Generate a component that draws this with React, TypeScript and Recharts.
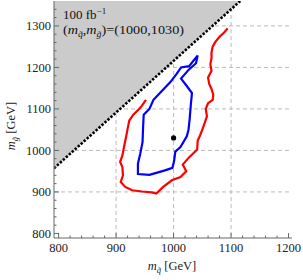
import {
  ComposedChart,
  Line,
  Area,
  Scatter,
  XAxis,
  YAxis,
  CartesianGrid,
} from "recharts";

// squark mass (x) / gluino mass (y), GeV
const redContour = [
  [1094, 1294], [1088, 1284], [1080, 1274], [1073, 1262], [1068, 1250],
  [1066, 1236], [1066, 1222], [1064, 1208], [1066, 1192], [1060, 1176],
  [1062, 1160], [1066, 1148], [1069, 1134], [1068, 1122], [1060, 1114],
  [1056, 1100], [1058, 1082], [1054, 1066], [1050, 1050], [1046, 1036],
  [1042, 1024], [1041, 1002], [1026, 982], [1016, 966], [1022, 950],
  [1012, 936], [997, 928], [982, 912], [970, 896], [962, 899],
  [945, 901], [928, 904], [916, 912], [908, 924], [912, 940],
  [911, 960], [907, 972], [911, 988], [914, 1010], [917, 1030],
  [920, 1052], [923, 1072], [930, 1086], [940, 1100], [945, 1108],
  [952, 1122],
];

const blueContour = [
  [1042, 1229], [1039, 1210], [1026, 1194], [1013, 1173], [1022, 1157],
  [1032, 1138], [1030, 1110], [1028, 1076], [1026, 1050], [1023, 1034],
  [1012, 1008], [1003, 997], [1001, 975], [998, 958], [985, 952],
  [970, 946], [958, 941], [938, 943], [938, 968], [942, 992],
  [946, 1020], [947, 1056], [948, 1086], [958, 1100], [965, 1122],
  [980, 1144], [994, 1164], [1005, 1184], [1013, 1200], [1027, 1203],
  [1042, 1229],
];

// kinematic boundary (dotted), shaded above
const boundaryQ = [792, 1116];
const boundaryG = [957, 1360];

const benchmark = [{ q: 1000, g: 1030 }];

const xTicks = [
  800, 820, 840, 860, 880, 900, 920, 940, 960, 980, 1000, 1020, 1040, 1060,
  1080, 1100, 1120, 1140, 1160, 1180, 1200,
];
const yTicks = [
  800, 820, 840, 860, 880, 900, 920, 940, 960, 980, 1000, 1020, 1040, 1060,
  1080, 1100, 1120, 1140, 1160, 1180, 1200, 1220, 1240, 1260, 1280, 1300,
  1320, 1340,
];
const xGrid = [900, 1000, 1100];
const yGrid = [900, 1000, 1100, 1200, 1300];

const X_DOMAIN = [792, 1206];
const Y_DOMAIN = [789, 1360];

const FONT = "'Liberation Serif', 'DejaVu Serif', serif";
const FRAME = "#666";

const red = redContour.map(([q, g]) => ({ q, g }));
const blue = blueContour.map(([q, g]) => ({ q, g }));
const boundary = boundaryQ.map((q, i) => ({ q, g: boundaryG[i] }));
const shade = boundaryQ.map((q, i) => ({ q, band: [boundaryG[i], Y_DOMAIN[1]] }));

const tickLen = (v: number) => (v % 100 === 0 ? 5 : 2.5);

// grid positions: same linear mapping the axes use
const gridX = ({ offset }: any) =>
  xGrid.map((v) => offset.left + ((v - X_DOMAIN[0]) / (X_DOMAIN[1] - X_DOMAIN[0])) * offset.width);
const gridY = ({ offset }: any) =>
  yGrid.map((v) => offset.top + ((Y_DOMAIN[1] - v) / (Y_DOMAIN[1] - Y_DOMAIN[0])) * offset.height);

const BottomTick = ({ x, y, payload }: any) => (
  <g>
    <line x1={x} x2={x} y1={y} y2={y - tickLen(payload.value)} stroke={FRAME} />
    {payload.value % 100 === 0 && (
      <text x={x} y={y + 14} textAnchor="middle" fontFamily={FONT} fontSize={12.5} fill="#222">
        {payload.value}
      </text>
    )}
  </g>
);

const TopTick = ({ x, y, payload }: any) => (
  <line x1={x} x2={x} y1={y} y2={y + tickLen(payload.value)} stroke={FRAME} />
);

const LeftTick = ({ x, y, payload }: any) => (
  <g>
    <line x1={x} x2={x + tickLen(payload.value)} y1={y} y2={y} stroke={FRAME} />
    {payload.value % 100 === 0 && (
      <text x={x - 3} y={y} dy="0.35em" textAnchor="end" fontFamily={FONT} fontSize={12.5} fill="#222">
        {payload.value}
      </text>
    )}
  </g>
);

const RightTick = ({ x, y, payload }: any) => (
  <line x1={x} x2={x - tickLen(payload.value)} y1={y} y2={y} stroke={FRAME} />
);

const Dot = ({ cx, cy }: any) => <circle cx={cx} cy={cy} r={2.6} fill="#000" />;

export default function App() {
  return (
    <div style={{ position: "absolute", left: 0, top: 0, width: 303, height: 280, background: "#fff" }}>
      <ComposedChart width={303} height={280} margin={{ top: 1, right: 11, bottom: 0, left: 0 }}>
        <CartesianGrid
          stroke="#bbb"
          strokeDasharray="4 3"
          verticalCoordinatesGenerator={gridX}
          horizontalCoordinatesGenerator={gridY}
        />
        <XAxis
          xAxisId={0}
          dataKey="q"
          type="number"
          domain={X_DOMAIN}
          allowDataOverflow
          ticks={xTicks}
          interval={0}
          height={42}
          tickSize={0}
          tickMargin={0}
          tickLine={false}
          axisLine={{ stroke: FRAME }}
          tick={BottomTick}
        />
        <XAxis
          xAxisId="top"
          orientation="top"
          dataKey="q"
          type="number"
          domain={X_DOMAIN}
          allowDataOverflow
          ticks={xTicks}
          interval={0}
          height={0}
          tickSize={0}
          tickMargin={0}
          tickLine={false}
          axisLine={{ stroke: FRAME }}
          tick={TopTick}
        />
        <YAxis
          yAxisId={0}
          dataKey="g"
          type="number"
          domain={Y_DOMAIN}
          allowDataOverflow
          ticks={yTicks}
          interval={0}
          width={54}
          tickSize={0}
          tickMargin={0}
          tickLine={false}
          axisLine={{ stroke: FRAME }}
          tick={LeftTick}
        />
        <YAxis
          yAxisId="right"
          orientation="right"
          dataKey="g"
          type="number"
          domain={Y_DOMAIN}
          allowDataOverflow
          ticks={yTicks}
          interval={0}
          width={0}
          tickSize={0}
          tickMargin={0}
          tickLine={false}
          axisLine={{ stroke: FRAME }}
          tick={RightTick}
        />

        <Area
          data={shade}
          dataKey="band"
          type="linear"
          fill="#cbcbcb"
          fillOpacity={1}
          stroke="none"
          isAnimationActive={false}
        />
        <Line
          data={boundary}
          dataKey="g"
          type="linear"
          stroke="#000"
          strokeWidth={2.6}
          strokeDasharray="2.4 1.6"
          dot={false}
          isAnimationActive={false}
        />
        <Line
          data={red}
          dataKey="g"
          type="linear"
          stroke="#ff0000"
          strokeWidth={2.2}
          dot={false}
          isAnimationActive={false}
        />
        <Line
          data={blue}
          dataKey="g"
          type="linear"
          stroke="#0000ff"
          strokeWidth={2.2}
          dot={false}
          isAnimationActive={false}
        />
        <Scatter data={benchmark} dataKey="g" shape={Dot} isAnimationActive={false} />

        <text x={172} y={270} textAnchor="middle" fontFamily={FONT} fontSize={12.5} fill="#222">
          <tspan fontStyle="italic">m</tspan>
          <tspan dy={3} fontSize={8.5} fontStyle="italic">q̃</tspan>
          <tspan dy={-3}> [GeV]</tspan>
        </text>
        <text
          x={15}
          y={126}
          transform="rotate(-90, 15, 126)"
          textAnchor="middle"
          fontFamily={FONT}
          fontSize={12.5}
          fill="#222"
        >
          <tspan fontStyle="italic">m</tspan>
          <tspan dy={3} fontSize={8.5} fontStyle="italic">g̃</tspan>
          <tspan dy={-3}> [GeV]</tspan>
        </text>
      </ComposedChart>

      {/* plot annotation, kept above the shaded region */}
      <svg width={303} height={60} style={{ position: "absolute", left: 0, top: 0, pointerEvents: "none" }}>
        <text x={63} y={19} fontFamily={FONT} fontSize={13} fill="#111">
          100 fb<tspan dy={-5} fontSize={9}>−1</tspan>
        </text>
        <text x={63} y={34} fontFamily={FONT} fontSize={12.5} fill="#111" textLength={121} lengthAdjust="spacingAndGlyphs">
          (<tspan fontStyle="italic">m</tspan>
          <tspan dy={3} fontSize={8.5} fontStyle="italic">q̃</tspan>
          <tspan dy={-3}>,</tspan>
          <tspan fontStyle="italic">m</tspan>
          <tspan dy={3} fontSize={8.5} fontStyle="italic">g̃</tspan>
          <tspan dy={-3}>)=(1000,1030)</tspan>
        </text>
      </svg>
    </div>
  );
}
